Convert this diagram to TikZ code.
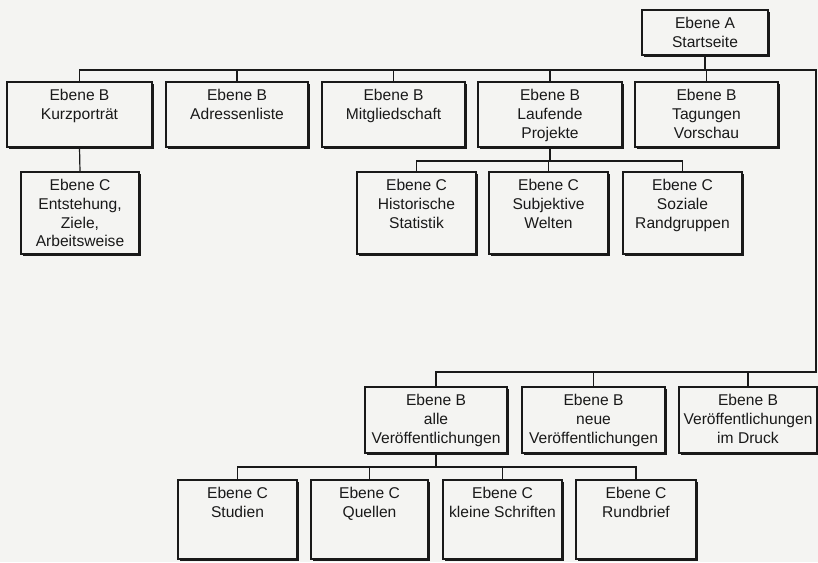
\documentclass[tikz,border=0pt]{standalone}
\usepackage{fontspec}
\setmainfont{Liberation Sans}
\usetikzlibrary{shadows}
\definecolor{paper}{RGB}{244,244,242}
\definecolor{ink}{RGB}{25,25,25}
\tikzset{
  boxst/.style={draw=ink, line width=1.1pt, fill=paper, inner sep=0pt, outer sep=0pt,
    drop shadow={shadow xshift=2.2pt, shadow yshift=-2.2pt, fill=ink, opacity=1}},
  txt/.style={inner sep=0pt, align=center, text=ink,
    font=\fontsize{15.6}{18.8}\selectfont},
  conn/.style={draw=ink, line width=1.2pt},
}
\newcommand\ebox[6]{%
  \pgfmathsetmacro\bw{#4-#2}\pgfmathsetmacro\bh{#5-#3}%
  \node[boxst, minimum width=\bw pt, minimum height=\bh pt] (#1) at ({(#2+#4)/2},{(#3+#5)/2}) {};
  \node[txt, anchor=north] (#1t) at ([yshift=-7pt]#1.north) {#6};}
\begin{document}
\begin{tikzpicture}[x=1pt,y=-1pt]
\fill[paper] (0,0) rectangle (818,562);
\useasboundingbox (0,0) rectangle (818,562);
% level A
\ebox{A}{642}{10}{768}{55}{Ebene A\\Startseite}
% level B top row
\ebox{B1}{7}{82}{152}{147}{Ebene B\\Kurzporträt}
\ebox{B2}{166}{82}{308}{147}{Ebene B\\Adressenliste}
\ebox{B3}{322}{82}{465}{147}{Ebene B\\Mitgliedschaft}
\ebox{B4}{478}{82}{622}{147}{Ebene B\\Laufende\\Projekte}
\ebox{B5}{635}{82}{778}{147}{Ebene B\\Tagungen\\Vorschau}
% level C top
\ebox{C0}{21}{172}{139}{254}{Ebene C\\Entstehung,\\Ziele,\\Arbeitsweise}
\ebox{C1}{357}{172}{476}{254}{Ebene C\\Historische\\Statistik}
\ebox{C2}{489}{172}{608}{254}{Ebene C\\Subjektive\\Welten}
\ebox{C3}{623}{172}{742}{254}{Ebene C\\Soziale\\Randgruppen}
% lower B row
\ebox{L1}{365}{387}{507}{453}{Ebene B\\alle\\Veröffentlichungen}
\ebox{L2}{522}{387}{665}{453}{Ebene B\\neue\\Veröffentlichungen}
\ebox{L3}{679}{387}{817}{453}{Ebene B\\Veröffentlichungen\\im Druck}
% lower C row
\ebox{D1}{178}{480}{297}{559}{Ebene C\\Studien}
\ebox{D2}{311}{480}{428}{559}{Ebene C\\Quellen}
\ebox{D3}{443}{480}{562}{559}{Ebene C\\kleine Schriften}
\ebox{D4}{576}{480}{696}{559}{Ebene C\\Rundbrief}
% bus coordinates
\coordinate (busA) at (816,70);
\coordinate (busL) at (816,372);
% connectors A -> B
\draw[conn] (A.south) -- (A.south |- busA);
\draw[conn] (B1.north) -- (B1.north |- busA) -- (busA) -- (busL) -- (L1.north |- busL) -- (L1.north);
\foreach \b in {B2,B3,B4,B5} \draw[conn] (\b.north) -- (\b.north |- busA);
\foreach \b in {L2,L3} \draw[conn] (\b.north) -- (\b.north |- busL);
% B1 -> C0
\draw[conn] (B1.south) -- (C0.north);
% B4 -> C1..C3
\coordinate (busC) at (550,161);
\draw[conn] (B4.south) -- (B4.south |- busC);
\draw[conn] (C1.north) -- (C1.north |- busC) -- (C3.north |- busC) -- (C3.north);
\draw[conn] (C2.north) -- (C2.north |- busC);
% L1 -> D1..D4
\coordinate (busD) at (437,467);
\draw[conn] (L1.south) -- (L1.south |- busD);
\draw[conn] (D1.north) -- (D1.north |- busD) -- (D4.north |- busD) -- (D4.north);
\foreach \b in {D2,D3} \draw[conn] (\b.north) -- (\b.north |- busD);
\end{tikzpicture}
\end{document}
